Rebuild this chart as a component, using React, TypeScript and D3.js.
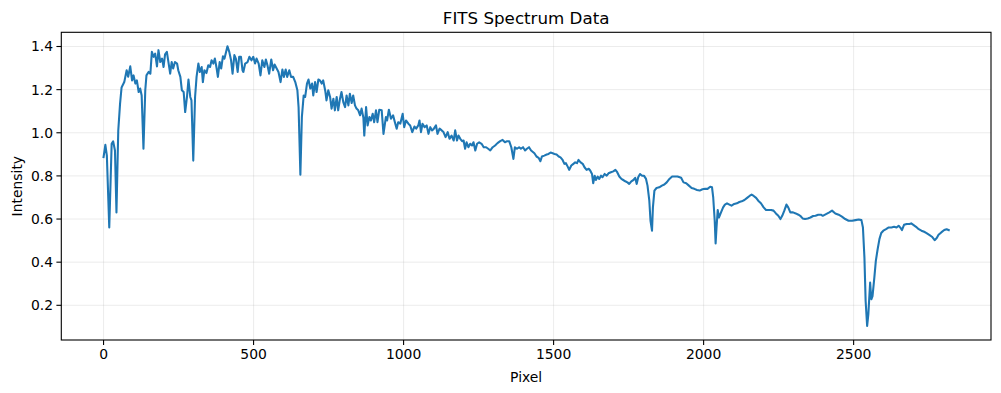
import React from "react";
import * as d3 from "d3";

// spectrum: [pixel, intensity]
const spectrum: [number, number][] = [
  [0, 0.887], [6, 0.944], [11, 0.894], [19, 0.561], [27, 0.949], [32, 0.96], [38, 0.918], [43, 0.631],
  [49, 1.01], [55, 1.135], [60, 1.21], [69, 1.235], [77, 1.29], [82, 1.26], [89, 1.308], [95, 1.243],
  [100, 1.266], [106, 1.228], [111, 1.243], [117, 1.189], [122, 1.205], [127, 1.173], [133, 0.926],
  [139, 1.197], [143, 1.266], [150, 1.282], [156, 1.274], [161, 1.375], [167, 1.352], [172, 1.367],
  [178, 1.308], [183, 1.383], [189, 1.328], [195, 1.344], [200, 1.305], [205, 1.364], [211, 1.375],
  [217, 1.321], [222, 1.274], [227, 1.328], [232, 1.298], [238, 1.328], [245, 1.321], [249, 1.29],
  [256, 1.259], [261, 1.197], [267, 1.189], [272, 1.096], [278, 1.166], [283, 1.247], [289, 1.166],
  [293, 1.15], [299, 0.871], [305, 1.166], [310, 1.259], [316, 1.321], [321, 1.282], [327, 1.305],
  [331, 1.235], [336, 1.29], [343, 1.277], [349, 1.313], [355, 1.305], [360, 1.336], [366, 1.321],
  [371, 1.344], [377, 1.298], [381, 1.259], [387, 1.328], [392, 1.298], [398, 1.355], [403, 1.344],
  [413, 1.401], [419, 1.375], [425, 1.336], [430, 1.274], [436, 1.36], [441, 1.344], [447, 1.282],
  [452, 1.352], [458, 1.352], [463, 1.29],
  [466, 1.282], [472, 1.321], [480, 1.328], [486, 1.352], [493, 1.336], [499, 1.352], [505, 1.321],
  [510, 1.344], [517, 1.321], [523, 1.266], [529, 1.336], [536, 1.305], [541, 1.34], [547, 1.308],
  [552, 1.274], [559, 1.34], [565, 1.29], [570, 1.316], [577, 1.298], [583, 1.282], [590, 1.235],
  [596, 1.293], [601, 1.259], [607, 1.293], [612, 1.259], [619, 1.29], [625, 1.259], [632, 1.259],
  [639, 1.235], [646, 1.197], [650, 1.119], [656, 0.806], [661, 1.073], [667, 1.173], [672, 1.166],
  [678, 1.228], [683, 1.247], [689, 1.205], [695, 1.228], [699, 1.173], [705, 1.235], [710, 1.189],
  [716, 1.247], [721, 1.243], [727, 1.228], [732, 1.243], [739, 1.194], [743, 1.15], [749, 1.197],
  [755, 1.166], [760, 1.112], [766, 1.158], [771, 1.104], [777, 1.166], [782, 1.104], [788, 1.158],
  [793, 1.189], [799, 1.142], [805, 1.119], [810, 1.173], [816, 1.127], [821, 1.181], [827, 1.138],
  [832, 1.173], [838, 1.127], [843, 1.112], [849, 1.104], [855, 1.081], [860, 1.112], [866, 1.07],
  [869, 0.987], [875, 1.119], [880, 1.034], [886, 1.073], [891, 1.057], [897, 1.088], [902, 1.049],
  [908, 1.104], [913, 1.049], [919, 1.107], [927, 1.104], [933, 0.995], [941, 1.073],
  [945, 1.057], [951, 1.107], [958, 1.065], [965, 1.081], [971, 1.049], [977, 1.019], [982, 1.049],
  [989, 1.042], [997, 1.088], [1002, 1.026], [1008, 1.057], [1016, 1.042], [1022, 1.034], [1029, 1.003],
  [1036, 1.029], [1042, 1.019], [1049, 1.034], [1053, 1.057], [1058, 1.003], [1063, 1.042], [1070, 1.026],
  [1077, 1.034], [1083, 0.995], [1089, 1.026], [1095, 1.011], [1101, 1.019], [1108, 1.034], [1113, 0.995],
  [1120, 1.019], [1127, 1.011], [1133, 1.003], [1140, 0.98], [1147, 1.003], [1153, 0.972], [1160, 0.987],
  [1167, 0.964], [1172, 1.011], [1178, 0.964], [1183, 0.987], [1189, 0.972], [1195, 0.961], [1200, 0.964],
  [1205, 0.926], [1210, 0.956], [1216, 0.933], [1222, 0.949], [1228, 0.941], [1233, 0.956], [1239, 0.918],
  [1245, 0.949], [1252, 0.956], [1260, 0.949], [1267, 0.933], [1275, 0.933], [1282, 0.926], [1289, 0.918],
  [1297, 0.933], [1305, 0.941], [1313, 0.952], [1322, 0.961], [1330, 0.967], [1338, 0.956], [1345, 0.961],
  [1352, 0.961], [1359, 0.933], [1366, 0.879], [1371, 0.933], [1378, 0.926], [1385, 0.933], [1391, 0.926],
  [1398, 0.933], [1405, 0.918], [1411, 0.926], [1418, 0.933], [1425, 0.918],
  [1436, 0.905], [1443, 0.89], [1450, 0.884], [1456, 0.868], [1461, 0.89], [1469, 0.894], [1477, 0.899],
  [1483, 0.902], [1490, 0.908], [1497, 0.905], [1503, 0.902], [1510, 0.899], [1517, 0.89], [1523, 0.886],
  [1530, 0.874], [1536, 0.856], [1541, 0.859], [1547, 0.843], [1552, 0.828], [1559, 0.848], [1566, 0.856],
  [1572, 0.863], [1578, 0.859], [1583, 0.874], [1590, 0.863], [1597, 0.856], [1603, 0.84], [1610, 0.828],
  [1617, 0.833], [1622, 0.825], [1628, 0.809], [1632, 0.766], [1637, 0.801], [1641, 0.781], [1647, 0.797],
  [1652, 0.786], [1658, 0.801], [1663, 0.794], [1670, 0.809], [1677, 0.801], [1683, 0.812], [1691, 0.817],
  [1699, 0.821], [1706, 0.828], [1712, 0.817], [1719, 0.797], [1726, 0.786], [1732, 0.781], [1739, 0.775],
  [1746, 0.77], [1752, 0.763], [1759, 0.775], [1766, 0.781], [1772, 0.791], [1777, 0.763], [1782, 0.794],
  [1788, 0.809], [1795, 0.801], [1801, 0.801], [1808, 0.786], [1813, 0.755], [1819, 0.685], [1823, 0.592],
  [1828, 0.546], [1831, 0.654], [1836, 0.732], [1843, 0.744], [1852, 0.747], [1861, 0.755], [1869, 0.76],
  [1877, 0.77], [1886, 0.786], [1895, 0.797], [1903, 0.797],
  [1913, 0.797], [1925, 0.791], [1933, 0.77], [1942, 0.766], [1951, 0.755], [1960, 0.744], [1969, 0.74],
  [1978, 0.735], [1987, 0.732], [1996, 0.738], [2005, 0.74], [2013, 0.74], [2022, 0.75], [2028, 0.747],
  [2032, 0.7], [2037, 0.592], [2040, 0.487], [2043, 0.561], [2047, 0.642], [2051, 0.607], [2058, 0.631],
  [2065, 0.654], [2071, 0.667], [2078, 0.673], [2086, 0.667], [2093, 0.662], [2102, 0.67], [2111, 0.673],
  [2119, 0.679], [2127, 0.682], [2136, 0.688], [2145, 0.698], [2153, 0.707], [2160, 0.713], [2167, 0.707],
  [2175, 0.698], [2182, 0.685], [2191, 0.673], [2200, 0.654], [2208, 0.642], [2216, 0.642], [2225, 0.642],
  [2233, 0.639], [2241, 0.626], [2249, 0.615], [2256, 0.6], [2262, 0.615], [2269, 0.639], [2276, 0.667],
  [2282, 0.654], [2289, 0.631], [2298, 0.631], [2307, 0.626], [2316, 0.62], [2322, 0.615], [2330, 0.603],
  [2338, 0.6], [2347, 0.603], [2356, 0.607], [2365, 0.614], [2373, 0.615], [2382, 0.62], [2391, 0.62],
  [2397, 0.615], [2408, 0.623], [2419, 0.631], [2428, 0.639], [2439, 0.626], [2450, 0.62], [2461, 0.611],
  [2472, 0.6], [2483, 0.592], [2495, 0.592], [2506, 0.595], [2517, 0.598], [2526, 0.595], [2531, 0.561],
  [2536, 0.421], [2540, 0.22], [2545, 0.104], [2549, 0.158], [2555, 0.305], [2559, 0.228], [2563, 0.243],
  [2569, 0.328], [2574, 0.406], [2580, 0.46], [2586, 0.507], [2592, 0.535], [2599, 0.546], [2608, 0.553],
  [2617, 0.561], [2626, 0.561], [2635, 0.564], [2643, 0.561], [2650, 0.569], [2657, 0.558], [2661, 0.549],
  [2668, 0.573], [2677, 0.577], [2686, 0.577], [2692, 0.58], [2699, 0.573], [2708, 0.564], [2717, 0.553],
  [2726, 0.546], [2735, 0.541], [2743, 0.535], [2752, 0.527], [2761, 0.518], [2770, 0.502], [2777, 0.512],
  [2783, 0.527], [2792, 0.538], [2802, 0.549], [2810, 0.553], [2817, 0.549],
];

const xTicks = [0, 500, 1000, 1500, 2000, 2500];
const yTicks = [0.2, 0.4, 0.6, 0.8, 1.0, 1.2, 1.4];

const W = 1001;
const H = 393;
const left = 61.3;
const right = 991;
const top = 32.3;
const bottom = 340;
const font = "DejaVu Sans, sans-serif";

// matplotlib-style 5% padding around the data
function padded([lo, hi]: [number, number]): [number, number] {
  const m = (hi - lo) * 0.05;
  return [lo - m, hi + m];
}

const App = () => {
  const x = d3
    .scaleLinear()
    .domain(padded(d3.extent(spectrum, d => d[0]) as [number, number]))
    .range([left, right]);
  const y = d3
    .scaleLinear()
    .domain(padded(d3.extent(spectrum, d => d[1]) as [number, number]))
    .range([bottom, top]);

  const line = d3
    .line<[number, number]>()
    .x(d => x(d[0]))
    .y(d => y(d[1]));

  return (
    <svg width={W} height={H} style={{ position: "absolute", left: 0, top: 0 }}>
      <rect width={W} height={H} fill="white" />
      {/* grid */}
      {xTicks.map(t => (
        <line key={"gx" + t} x1={x(t)} x2={x(t)} y1={top} y2={bottom} stroke="#b0b0b0" strokeOpacity={0.3} strokeWidth={0.8} />
      ))}
      {yTicks.map(t => (
        <line key={"gy" + t} x1={left} x2={right} y1={y(t)} y2={y(t)} stroke="#b0b0b0" strokeOpacity={0.3} strokeWidth={0.8} />
      ))}

      <clipPath id="plot-area">
        <rect x={left} y={top} width={right - left} height={bottom - top} />
      </clipPath>
      <path
        d={line(spectrum) ?? ""}
        fill="none"
        stroke="#1f77b4"
        strokeWidth={2.08}
        strokeLinejoin="round"
        strokeLinecap="square"
        clipPath="url(#plot-area)"
      />

      {/* spines */}
      <rect x={left} y={top} width={right - left} height={bottom - top} fill="none" stroke="black" strokeWidth={1.1} />

      {/* x axis */}
      {xTicks.map(t => (
        <g key={"xt" + t} transform={`translate(${x(t)},${bottom})`}>
          <line y2={4.9} stroke="black" strokeWidth={1.1} />
          <text y={18.5} textAnchor="middle" fontSize={13.9} fontFamily={font} fill="black">
            {t}
          </text>
        </g>
      ))}
      {/* y axis */}
      {yTicks.map(t => (
        <g key={"yt" + t} transform={`translate(${left},${y(t)})`}>
          <line x2={-4.9} stroke="black" strokeWidth={1.1} />
          <text x={-8.3} dy="0.35em" textAnchor="end" fontSize={13.9} fontFamily={font} fill="black">
            {d3.format(".1f")(t)}
          </text>
        </g>
      ))}

      <text x={(left + right) / 2} y={381.5} textAnchor="middle" fontSize={13.9} fontFamily={font} fill="black">
        Pixel
      </text>
      <text
        transform={`translate(21.5,${(top + bottom) / 2}) rotate(-90)`}
        textAnchor="middle"
        fontSize={13.9}
        fontFamily={font}
        fill="black"
      >
        Intensity
      </text>
      <text x={(left + right) / 2} y={24} textAnchor="middle" fontSize={16.7} fontFamily={font} fill="black">
        FITS Spectrum Data
      </text>
    </svg>
  );
};

export default App;
